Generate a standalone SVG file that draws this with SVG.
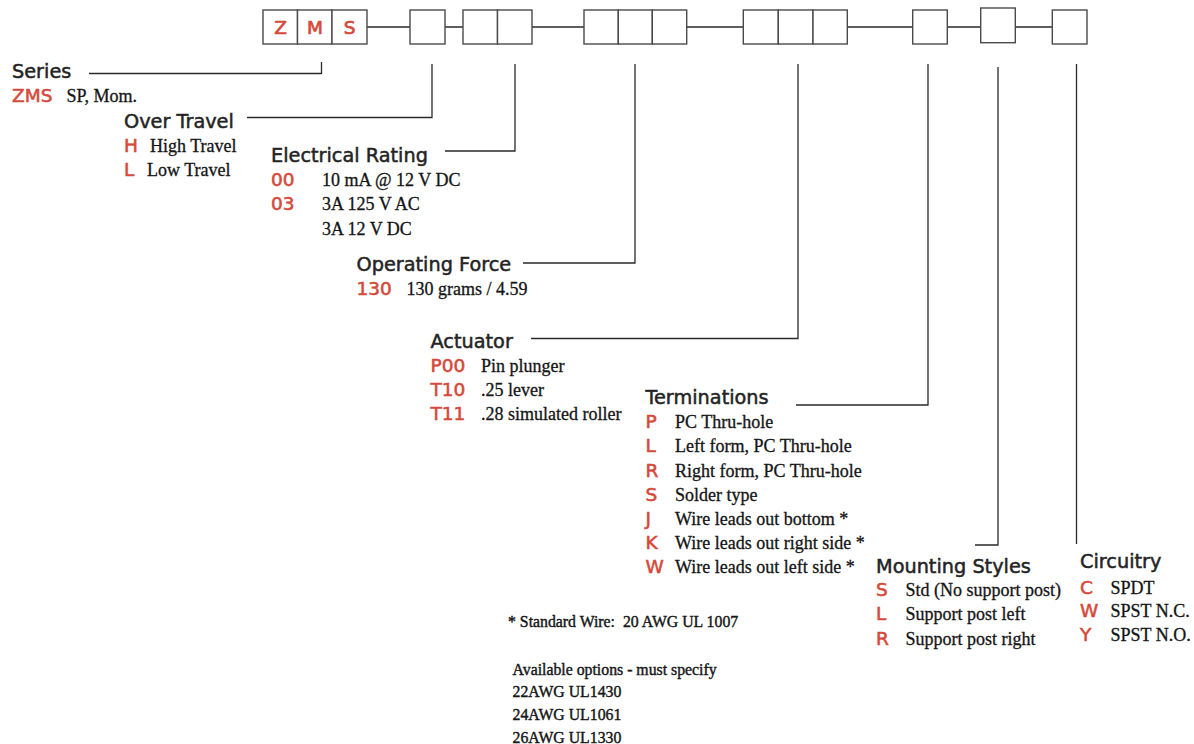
<svg xmlns="http://www.w3.org/2000/svg" width="1194" height="744" viewBox="0 0 1194 744">
<style>
.box{fill:#fff;stroke:#4a4a4a;stroke-width:1.4}
.ln{fill:none;stroke:#2a2a2a;stroke-width:1.3}
.bl{font-family:"DejaVu Sans","Liberation Sans",sans-serif;font-size:18.5px;fill:#d5493a;stroke:#d5493a;stroke-width:0.7;text-anchor:middle}
.t{font-family:"DejaVu Sans","Liberation Sans",sans-serif;font-size:19.3px;fill:#242424;stroke:#242424;stroke-width:0.5}
.c{font-family:"DejaVu Sans","Liberation Sans",sans-serif;font-size:18.5px;fill:#d5493a;stroke:#d5493a;stroke-width:0.55}
.v{font-family:"Liberation Serif","Times New Roman",serif;font-size:18px;fill:#151515;stroke:#151515;stroke-width:0.3}
.f{font-family:"Liberation Serif","Times New Roman",serif;font-size:15.8px;fill:#151515;stroke:#151515;stroke-width:0.4}
</style>
<rect width="1194" height="744" fill="#fff"/>
<g id="connectors">
<path class="ln" d="M367 27H410M445 27H463M532 27H584M687 27H743M847 27H913M947 27H981M1015 27H1052"/>
<path class="ln" d="M89 73.5H321.5V62"/>
<path class="ln" d="M247 117.5H432V64"/>
<path class="ln" d="M445 151H515V64"/>
<path class="ln" d="M523 263H635V64"/>
<path class="ln" d="M531 338.5H798V64"/>
<path class="ln" d="M796 405H928V64"/>
<path class="ln" d="M975 545H998V67"/>
<path class="ln" d="M1076.5 544V64"/>
</g>
<g id="box-series">
<rect class="box" x="263" y="10" width="34.5" height="34"/>
<rect class="box" x="297.5" y="10" width="34.5" height="34"/>
<rect class="box" x="332" y="10" width="35" height="34"/>
<text class="bl" x="280.5" y="33.5">Z</text>
<text class="bl" x="315" y="33.5">M</text>
<text class="bl" x="349.5" y="33.5">S</text>
</g>
<g id="box-overtravel"><rect class="box" x="410" y="10" width="35" height="34"/></g>
<g id="box-rating">
<rect class="box" x="463" y="10" width="34.5" height="34"/>
<rect class="box" x="497.5" y="10" width="34.5" height="34"/>
</g>
<g id="box-force">
<rect class="box" x="584" y="10" width="34.3" height="34"/>
<rect class="box" x="618.3" y="10" width="34" height="34"/>
<rect class="box" x="652.3" y="10" width="34.4" height="34"/>
</g>
<g id="box-actuator">
<rect class="box" x="743.3" y="10" width="35" height="34"/>
<rect class="box" x="778.3" y="10" width="34.7" height="34"/>
<rect class="box" x="813" y="10" width="34.3" height="34"/>
</g>
<g id="box-terminations"><rect class="box" x="912.7" y="10" width="34.6" height="34"/></g>
<g id="box-mounting"><rect class="box" x="980.7" y="8" width="34.6" height="34.7"/></g>
<g id="box-circuitry"><rect class="box" x="1052.3" y="10" width="34.7" height="34"/></g>

<g id="series">
<text class="t" x="12" y="78">Series</text>
<text class="c" x="12" y="102">ZMS</text><text class="v" x="66.5" y="102">SP, Mom.</text>
</g>
<g id="over-travel">
<text class="t" x="124" y="128">Over Travel</text>
<text class="c" x="124" y="152">H</text><text class="v" x="150" y="152">High Travel</text>
<text class="c" x="124" y="176">L</text><text class="v" x="147" y="176">Low Travel</text>
</g>
<g id="electrical-rating">
<text class="t" x="271" y="162">Electrical Rating</text>
<text class="c" x="271" y="186">00</text><text class="v" x="322" y="186">10 mA @ 12 V DC</text>
<text class="c" x="271" y="210">03</text><text class="v" x="322" y="210">3A 125 V AC</text>
<text class="v" x="322" y="234.5">3A 12 V DC</text>
</g>
<g id="operating-force">
<text class="t" x="356.5" y="271">Operating Force</text>
<text class="c" x="356.5" y="295">130</text><text class="v" x="406.5" y="295">130 grams / 4.59</text>
</g>
<g id="actuator">
<text class="t" x="430.5" y="347.5">Actuator</text>
<text class="c" x="430.5" y="372">P00</text><text class="v" x="481" y="372">Pin plunger</text>
<text class="c" x="430.5" y="396">T10</text><text class="v" x="481" y="396">.25 lever</text>
<text class="c" x="430.5" y="420">T11</text><text class="v" x="481" y="420">.28 simulated roller</text>
</g>
<g id="terminations">
<text class="t" x="645.5" y="403.5">Terminations</text>
<text class="c" x="645.5" y="427.5">P</text><text class="v" x="675" y="427.5">PC Thru-hole</text>
<text class="c" x="645.5" y="452">L</text><text class="v" x="675" y="452">Left form, PC Thru-hole</text>
<text class="c" x="645.5" y="476.5">R</text><text class="v" x="675" y="476.5">Right form, PC Thru-hole</text>
<text class="c" x="645.5" y="500.5">S</text><text class="v" x="675" y="500.5">Solder type</text>
<text class="c" x="645.5" y="524.5">J</text><text class="v" x="675" y="524.5">Wire leads out bottom *</text>
<text class="c" x="645.5" y="548.5">K</text><text class="v" x="675" y="548.5">Wire leads out right side *</text>
<text class="c" x="645.5" y="572.5">W</text><text class="v" x="675" y="572.5">Wire leads out left side *</text>
</g>
<g id="mounting-styles">
<text class="t" x="876" y="573">Mounting Styles</text>
<text class="c" x="876" y="596">S</text><text class="v" x="905.5" y="596">Std (No support post)</text>
<text class="c" x="876" y="620">L</text><text class="v" x="905.5" y="620">Support post left</text>
<text class="c" x="876" y="644.5">R</text><text class="v" x="905.5" y="644.5">Support post right</text>
</g>
<g id="circuitry">
<text class="t" x="1080" y="567.5">Circuitry</text>
<text class="c" x="1080" y="593.5">C</text><text class="v" x="1110.5" y="593.5">SPDT</text>
<text class="c" x="1080" y="617">W</text><text class="v" x="1110.5" y="617">SPST N.C.</text>
<text class="c" x="1080" y="640.5">Y</text><text class="v" x="1110.5" y="640.5">SPST N.O.</text>
</g>
<g id="footnote">
<text class="f" x="508" y="627" xml:space="preserve">* Standard Wire:  20 AWG UL 1007</text>
<text class="f" x="512.5" y="675">Available options - must specify</text>
<text class="f" x="512.5" y="697">22AWG UL1430</text>
<text class="f" x="512.5" y="720">24AWG UL1061</text>
<text class="f" x="512.5" y="742.5">26AWG UL1330</text>
</g>
</svg>
